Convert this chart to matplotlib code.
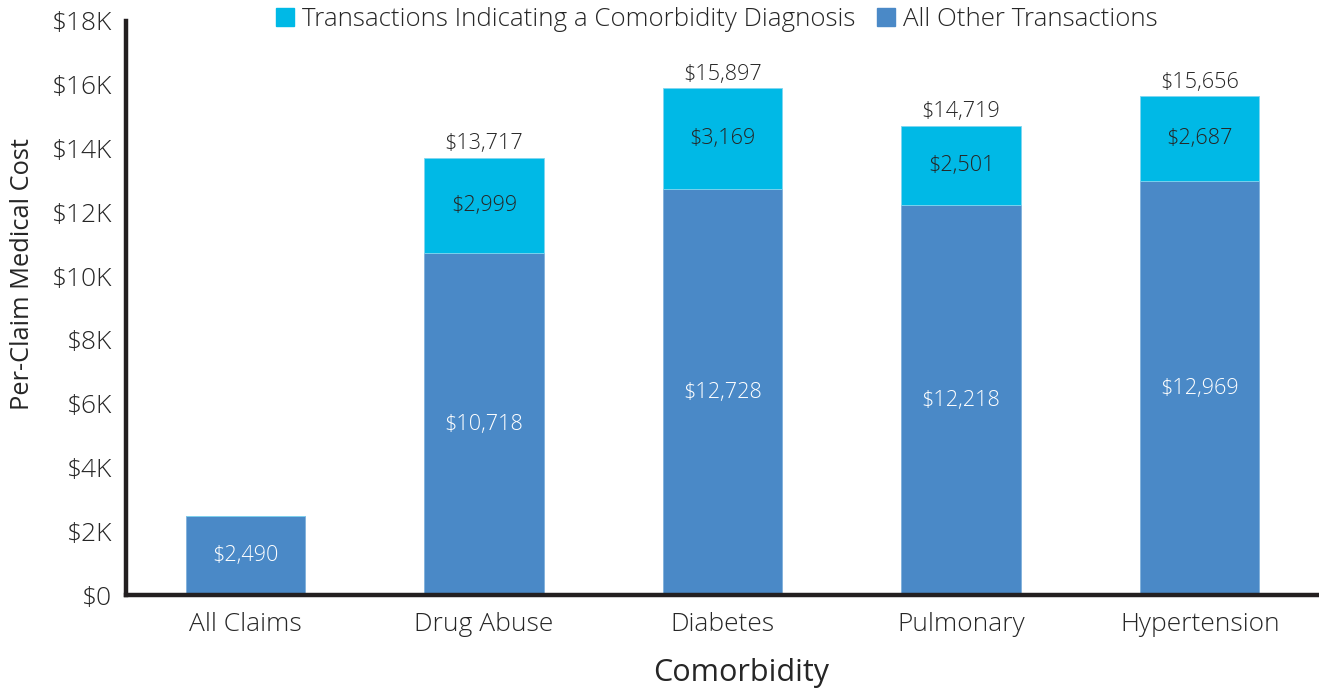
import matplotlib
matplotlib.use("Agg")
import matplotlib.pyplot as plt
from matplotlib.patches import Patch

plt.rcParams['font.family'] = ['Open Sans', 'DejaVu Sans']
plt.rcParams['font.weight'] = 'light'

categories = ["All Claims", "Drug Abuse", "Diabetes", "Pulmonary", "Hypertension"]
other_tx = [2490, 10718, 12728, 12218, 12969]
comorb_tx = [0, 2999, 3169, 2501, 2687]
totals = [None, 13717, 15897, 14719, 15656]
yticks = [0, 2000, 4000, 6000, 8000, 10000, 12000, 14000, 16000, 18000]
ytick_labels = ["$0", "$2K", "$4K", "$6K", "$8K", "$10K", "$12K", "$14K", "$16K", "$18K"]

c_other = "#4A89C7"
c_comorb = "#00B9E6"
txt = "#262626"

fig = plt.figure(figsize=(13.19, 6.92), dpi=100)
ax = fig.add_axes([0.0955, 0.140, 0.9045, 0.8297])

x = list(range(len(categories)))
ax.bar(x, other_tx, width=0.5, color=c_other, edgecolor="#7fb0dc", linewidth=0.6, zorder=2)
ax.bar(x, comorb_tx, width=0.5, bottom=other_tx, color=c_comorb, edgecolor="#7fd6f0", linewidth=0.6, zorder=2)

for i in x:
    ax.text(i, other_tx[i] / 2, f"${other_tx[i]:,}", ha="center", va="center",
            color="white", fontsize=15.6)
    if comorb_tx[i] > 0:
        ax.text(i, other_tx[i] + comorb_tx[i] / 2, f"${comorb_tx[i]:,}", ha="center",
                va="center", color=txt, fontsize=15.6)
    if totals[i] is not None:
        ax.text(i, totals[i] + 100, f"${totals[i]:,}", ha="center", va="bottom",
                color=txt, fontsize=15.6)

ax.set_xlim(-0.5, 4.5)
ax.set_ylim(0, 18000)
ax.set_yticks(yticks)
ax.set_yticklabels(ytick_labels)
ax.set_xticks(x)
ax.set_xticklabels(categories)
ax.tick_params(axis="both", length=0, colors=txt, labelsize=19)
ax.tick_params(axis="x", pad=12)
ax.tick_params(axis="y", pad=10)

for s in ["top", "right"]:
    ax.spines[s].set_visible(False)
for s in ["left", "bottom"]:
    ax.spines[s].set_linewidth(3.2)
    ax.spines[s].set_color("#231f20")
    ax.spines[s].set_capstyle("projecting")

ax.set_ylabel("Per-Claim Medical Cost", fontsize=18.3, color=txt)
ax.yaxis.set_label_coords(-0.076, 0.559)
ax.set_xlabel("Comorbidity", fontsize=22, color=txt)
ax.xaxis.set_label_coords(0.516, -0.136)
ax.xaxis.label.set_va("center")

handles = [Patch(color=c_comorb), Patch(color=c_other)]
fig.legend(handles, ["Transactions Indicating a Comorbidity Diagnosis", "All Other Transactions"],
           loc="upper center", bbox_to_anchor=(0.5435, 1.024), ncol=2, frameon=False,
           fontsize=18.6, handlelength=0.7, handleheight=0.7, handletextpad=0.3,
           columnspacing=0.85, labelcolor=txt)

fig.savefig("out.png", dpi=100)
